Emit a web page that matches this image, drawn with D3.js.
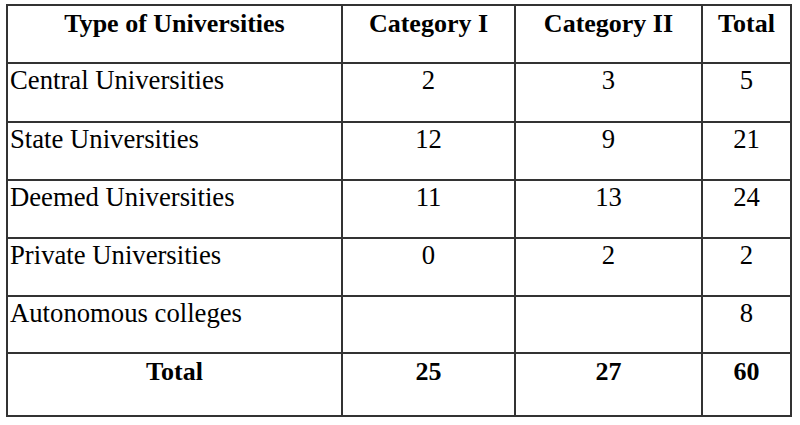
<!DOCTYPE html>
<html><head><meta charset="utf-8">
<script src="https://cdn.jsdelivr.net/npm/d3@7"></script>
<style>html,body{margin:0;padding:0;background:#fff;}svg{display:block;}</style>
</head><body>
<svg id="chart" width="800" height="425"></svg>
<script>
// ---- data ----
const headers = ["Type of Universities", "Category I", "Category II", "Total"];
const categories = ["Central Universities", "State Universities", "Deemed Universities", "Private Universities", "Autonomous colleges"];
const categoryI = [2, 12, 11, 0, null];
const categoryII = [3, 9, 13, 2, null];
const totals = [5, 21, 24, 2, 8];
const totalLabel = "Total";
const grandTotals = [25, 27, 60];

// ---- layout ----
const colEdges = [7, 342, 515, 702, 791];
const rowEdges = [5, 63, 122, 180, 238, 296, 353, 416];
const font = "'Liberation Serif','Times New Roman',serif";

const svg = d3.select("#chart");
const nRows = rowEdges.length - 1;
const yTop = d3.scaleOrdinal().domain(d3.range(nRows)).range(rowEdges.slice(0, -1));
const xLeft = d3.scaleOrdinal().domain(d3.range(4)).range(colEdges.slice(0, -1));
const xRight = d3.scaleOrdinal().domain(d3.range(4)).range(colEdges.slice(1));
const xMid = c => (xLeft(c) + xRight(c)) / 2;

// build rows
const rows = [];
rows.push({cells: headers, bold: true, header: true});
categories.forEach((c, i) => rows.push({cells: [c, categoryI[i], categoryII[i], totals[i]], bold: false}));
rows.push({cells: [totalLabel, ...grandTotals], bold: true, header: true});

// grid lines
const g = svg.append("g").attr("stroke", "#333").attr("stroke-width", 2).attr("fill", "none");
g.selectAll("line.h").data(rowEdges).join("line").attr("class", "h")
  .attr("x1", colEdges[0] - 1).attr("x2", colEdges[colEdges.length - 1] + 1)
  .attr("y1", d => d).attr("y2", d => d);
g.selectAll("line.v").data(colEdges).join("line").attr("class", "v")
  .attr("y1", rowEdges[0] - 1).attr("y2", rowEdges[rowEdges.length - 1] + 1)
  .attr("x1", d => d).attr("x2", d => d);

// text
rows.forEach((r, ri) => {
  r.cells.forEach((v, ci) => {
    if (v === null || v === undefined) return;
    const left = ci === 0 && !r.header;
    svg.append("text")
      .attr("x", left ? xLeft(ci) + 3 : xMid(ci))
      .attr("y", yTop(ri) + (r.bold ? 27 : 26))
      .attr("text-anchor", left ? "start" : "middle")
      .attr("font-family", font)
      .attr("font-size", r.bold ? 26 : 26.7)
      .attr("font-weight", r.bold ? "bold" : "normal")
      .attr("fill", "#000")
      .text(v);
  });
});
</script>
</body></html>
